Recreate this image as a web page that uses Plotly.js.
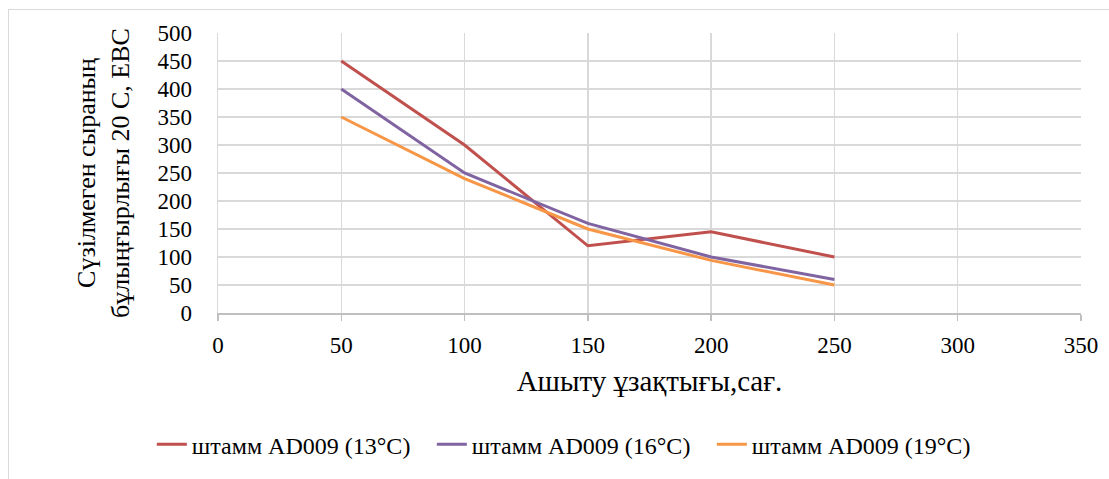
<!DOCTYPE html>
<html><head><meta charset="utf-8">
<script src="https://cdn.plot.ly/plotly-3.0.1.min.js"></script>
<style>
html,body{margin:0;padding:0;background:#fff;overflow:hidden;}
#frame{position:absolute;left:8px;top:9px;width:1200px;height:600px;border:1.5px solid #d9d9d9;box-sizing:border-box;}
#chart{position:absolute;left:0;top:0;width:1109px;height:479px;}
</style></head>
<body>
<div id="frame"></div>
<div id="chart"></div>
<script>
const hours = [50, 100, 150, 200, 250];
const s13 = [450, 300, 120, 145, 100];
const s16 = [400, 250, 160, 100, 60];
const s19 = [350, 240, 150, 94, 50];
const names = ['штамм AD009 (13°C)', 'штамм AD009 (16°C)', 'штамм AD009 (19°C)'];
const colors = ['#c0504d', '#8064a2', '#f79646'];
const series = [s13, s16, s19];

const traces = series.map((s, i) => ({
  x: hours, y: s, type: 'scatter', mode: 'lines', name: names[i],
  line: {color: colors[i], width: 3}
}));

const font = {family: 'Liberation Serif, Times New Roman, serif', color: '#000'};
const layout = {
  width: 1109, height: 479,
  margin: {l: 218, r: 28, t: 33, b: 166},
  paper_bgcolor: 'rgba(0,0,0,0)', plot_bgcolor: 'rgba(0,0,0,0)',
  font: Object.assign({size: 23}, font),
  showlegend: true,
  legend: {orientation: 'h', x: 0.41, xanchor: 'center', y: -0.47, yanchor: 'middle',
           font: Object.assign({size: 24}, font), itemwidth: 30, traceorder: 'normal',
           entrywidth: 235, entrywidthmode: 'pixels'},
  xaxis: {
    range: [0, 350], tickvals: [0, 50, 100, 150, 200, 250, 300, 350],
    showgrid: true, gridcolor: '#d9d9d9', gridwidth: 1.3, zeroline: false,
    showline: true, linecolor: '#bfbfbf', linewidth: 1.5,
    ticks: 'outside', ticklen: 6, tickcolor: '#bfbfbf', tickwidth: 1.3,
    ticklabelstandoff: 5,
    tickfont: Object.assign({size: 23}, font),
    title: {text: 'Ашыту ұзақтығы,сағ.', font: Object.assign({size: 29}, font), standoff: 13},
    automargin: false, fixedrange: true
  },
  yaxis: {
    range: [0, 500], tickvals: [0, 50, 100, 150, 200, 250, 300, 350, 400, 450, 500],
    showgrid: true, gridcolor: '#d9d9d9', gridwidth: 1.3, zeroline: false,
    showline: true, linecolor: '#d9d9d9', linewidth: 1.3,
    ticks: 'outside', ticklen: 20, tickcolor: 'rgba(0,0,0,0)',
    tickfont: Object.assign({size: 23}, font),
    title: {text: 'Сүзілмеген сыраның<br>бұлыңғырлығы 20 С, EBC', font: Object.assign({size: 26}, font), standoff: 20},
    automargin: false, fixedrange: true
  }
};
Plotly.newPlot('chart', traces, layout, {displayModeBar: false, staticPlot: true});
</script>
</body></html>
